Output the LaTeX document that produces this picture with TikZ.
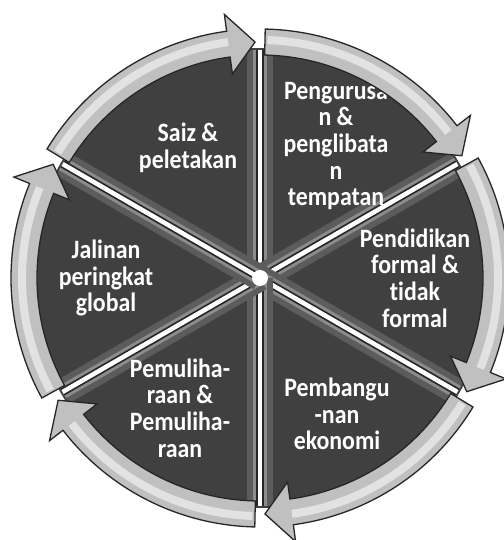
\documentclass[tikz,border=0pt]{standalone}
\usepackage{fontspec}
\setmainfont{Carlito}[FakeStretch=0.9, Ligatures=NoCommon]
\definecolor{sec}{HTML}{404040}
\definecolor{bev}{HTML}{5C5C5C}
\definecolor{bevl}{HTML}{8C8C8C}
\definecolor{ringf}{HTML}{C0C0C0}
\definecolor{ringl}{HTML}{E2E2E2}
\definecolor{edgec}{HTML}{262626}
\tikzset{
  lbl/.style={text=white, font=\fontsize{26.5}{26.6}\selectfont\bfseries, align=center, inner sep=0pt},
  ringbody/.style={fill=ringf, draw=edgec, line width=1.3pt, line join=miter},
  ringhi/.style={draw=ringl, line width=8pt}
}
\newcommand\ringarrow[2]{%
  \pgfmathsetmacro\hb{#2+6.5}%
  \pgfmathsetmacro\ta{#1-0.6}%
  \path[ringbody] (#1:249pt) arc[start angle=#1, end angle=\hb, radius=249pt]
    -- (\hb:266pt) -- (#2:236pt) -- (\hb:206pt) -- (\hb:223pt)
    arc[start angle=\hb, end angle=#1, radius=223pt] -- cycle;
  \path[ringhi] (\ta:238pt) arc[start angle=\ta, end angle=\hb, radius=238pt];
}
\begin{document}
\begin{tikzpicture}[x=1pt,y=1pt]
\useasboundingbox (-260,-262) rectangle (243,278);
\coordinate (C) at (0,0);
% sectors
\fill[sec] (C) circle[radius=230pt];
\foreach \b in {90,30,-30,-90,-150,150} {
  \draw[bev, line width=26pt] (C) -- (\b:228pt);
  \draw[bevl, line width=14pt] (C) -- (\b:228pt);
  \draw[edgec, line width=8pt] (C) -- (\b:228pt);
  \draw[white, line width=4.5pt] (C) -- (\b:228pt);
}
\fill[white] (C) circle[radius=8pt];
% labels
\node[lbl] (saiz) at (-72,130) {Saiz \&\\peletakan};
\node[lbl] (urus) at (76,132) {Pengurusa\\n \&\\penglibata\\n\\tempatan};
\node[lbl] (didik) at (155,0) {Pendidikan\\formal \&\\tidak\\formal};
\node[lbl] (bangun) at (77,-136) {Pembangu\\-nan\\ekonomi};
\node[lbl] (pulih) at (-80,-130) {Pemuliha-\\raan \&\\Pemuliha-\\raan};
\node[lbl] (jalin) at (-154,0) {Jalinan\\peringkat\\global};
% ring arrows
\ringarrow{148.8}{91.2}
\ringarrow{88.8}{31.2}
\ringarrow{28.8}{-28.8}
\ringarrow{-31.2}{-88.8}
\ringarrow{-91.2}{-148.8}
\ringarrow{208.8}{151.2}
\end{tikzpicture}
\end{document}
